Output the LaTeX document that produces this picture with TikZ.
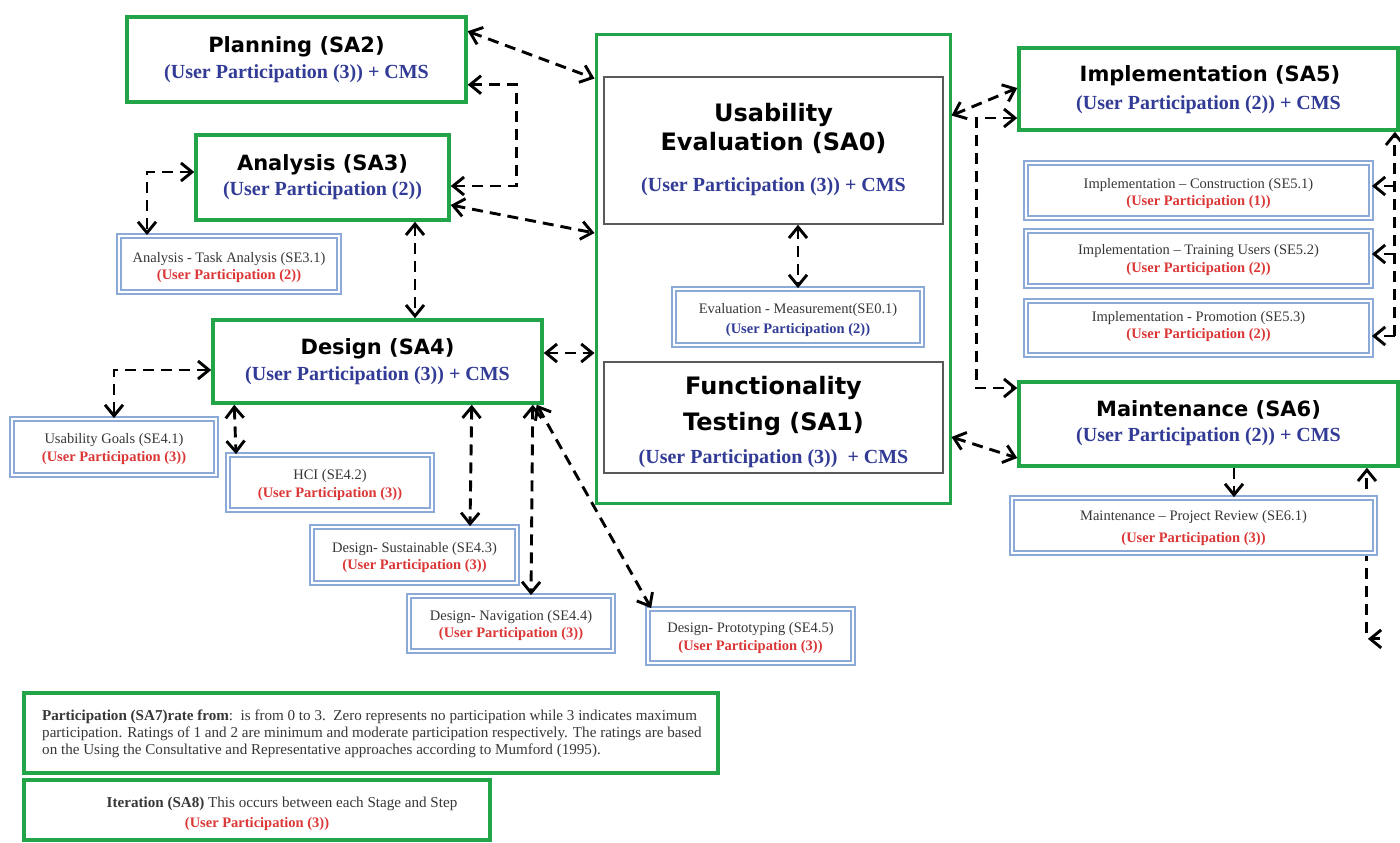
\documentclass[tikz,border=0pt]{standalone}
\usepackage{fontspec}
\setmainfont{Liberation Serif}
\newfontfamily\headfont{DejaVu Sans}
\usetikzlibrary{arrows.meta,backgrounds}

\definecolor{sagreen}{RGB}{34,165,72}
\definecolor{stepblue}{RGB}{140,170,215}
\definecolor{coregray}{RGB}{90,90,90}
\definecolor{upblue}{RGB}{50,60,150}
\definecolor{upred}{RGB}{220,55,55}
\definecolor{stepgray}{RGB}{55,55,55}

\tikzset{
  stage/.style={draw=sagreen, line width=3.5pt, fill=white, inner sep=0pt},
  frame/.style={draw=sagreen, line width=3pt, fill=white, inner sep=0pt},
  core/.style={draw=coregray, line width=1.5pt, fill=white, inner sep=0pt},
  substep/.style={draw=stepblue, line width=1.8pt, double=white, double distance=1.6pt, fill=white, inner sep=0pt},
  titletext/.style={font=\headfont\bfseries\fontsize{21}{25}\selectfont, anchor=base, inner sep=0pt},
  bigtitle/.style={font=\headfont\bfseries\fontsize{24}{28}\selectfont, anchor=base, inner sep=0pt},
  cms/.style={font=\bfseries\fontsize{20}{24}\selectfont, text=upblue, anchor=base, inner sep=0pt},
  stepname/.style={font=\fontsize{14.5}{17}\selectfont, text=stepgray, anchor=base, inner sep=0pt},
  steprate/.style={font=\bfseries\fontsize{14.5}{17}\selectfont, text=upred, anchor=base, inner sep=0pt},
  steprateblue/.style={steprate, text=upblue},
  notetext/.style={font=\fontsize{15.1}{17}\selectfont, text=stepgray, anchor=base west, inner sep=0pt},
  link/.style={draw=black, line width=2.9pt, dash pattern=on 11pt off 7pt,
    >={Straight Barb[length=11pt,width=18pt]}},
}

\begin{document}
\begin{tikzpicture}[x=1pt,y=-1pt]
\useasboundingbox (0,0) rectangle (1400,843);

% ---- central stage: usability evaluation and functionality testing
\node[frame, minimum width=354pt, minimum height=468pt] (cen) at (773,269) {};
\node[core, minimum width=339pt, minimum height=147pt] (sa0) at (773.5,150.5) {};
\node[substep, minimum width=248pt, minimum height=56pt] (se01) at (798,317) {};
\node[core, minimum width=339pt, minimum height=111pt] (sa1) at (773.5,417.5) {};

\node[bigtitle] (sa0a) at (773.5,121) {Usability};
\node[bigtitle] (sa0b) at (773.5,150) {Evaluation (SA0)};
\node[cms] (sa0c) at (773.5,191) {(User Participation (3)) + CMS};
\node[stepname] (se01a) at (798,313) {Evaluation - Measurement(SE0.1)};
\node[steprateblue] (se01b) at (798,333) {(User Participation (2))};
\node[bigtitle] (sa1a) at (773.5,394) {Functionality};
\node[bigtitle] (sa1b) at (773.5,430) {Testing (SA1)};
\node[cms] (sa1c) at (773.5,463) {(User Participation (3))\ \ + CMS};

% ---- planning and analysis
\node[stage, minimum width=339pt, minimum height=85pt] (sa2) at (296.5,59.5) {};
\node[titletext] (sa2a) at (296.5,52.5) {Planning (SA2)};
\node[cms] (sa2b) at (296.5,78.5) {(User Participation (3)) + CMS};

\node[stage, minimum width=253pt, minimum height=85pt] (sa3) at (322.5,177.5) {};
\node[titletext] (sa3a) at (322.5,170) {Analysis (SA3)};
\node[cms] (sa3b) at (322.5,195.5) {(User Participation (2))};

\node[substep, minimum width=220pt, minimum height=56pt] (se31) at (229,264) {};
\node[stepname] (se31a) at (229,262) {Analysis - Task Analysis (SE3.1)};
\node[steprate] (se31b) at (229,279) {(User Participation (2))};

% ---- design and its steps
\node[stage, minimum width=329pt, minimum height=83pt] (sa4) at (377.5,361.5) {};
\node[titletext] (sa4a) at (377.5,354.5) {Design (SA4)};
\node[cms] (sa4b) at (377.5,380) {(User Participation (3)) + CMS};

\node[substep, minimum width=204pt, minimum height=56pt] (se41) at (114,447) {};
\node[stepname] (se41a) at (114,443) {Usability Goals (SE4.1)};
\node[steprate] (se41b) at (114,461) {(User Participation (3))};

\node[substep, minimum width=204pt, minimum height=55pt] (se42) at (330,482.5) {};
\node[stepname] (se42a) at (330,479) {HCI (SE4.2)};
\node[steprate] (se42b) at (330,497) {(User Participation (3))};

\node[substep, minimum width=205pt, minimum height=56pt] (se43) at (414.5,555) {};
\node[stepname] (se43a) at (414.5,552) {Design- Sustainable (SE4.3)};
\node[steprate] (se43b) at (414.5,569) {(User Participation (3))};

\node[substep, minimum width=204pt, minimum height=55pt] (se44) at (511,623.5) {};
\node[stepname] (se44a) at (511,620) {Design- Navigation (SE4.4)};
\node[steprate] (se44b) at (511,637) {(User Participation (3))};

\node[substep, minimum width=205pt, minimum height=54pt] (se45) at (750.5,636) {};
\node[stepname] (se45a) at (750.5,632) {Design- Prototyping (SE4.5)};
\node[steprate] (se45b) at (750.5,650) {(User Participation (3))};

% ---- implementation and its steps
\node[stage, minimum width=379pt, minimum height=82pt] (sa5) at (1208.5,89) {};
\node[titletext] (sa5a) at (1210,81.5) {Implementation (SA5)};
\node[cms] (sa5b) at (1208.5,110) {(User Participation (2)) + CMS};

\node[substep, minimum width=345pt, minimum height=55pt] (se51) at (1198.5,190.5) {};
\node[stepname] (se51a) at (1198.5,188) {Implementation -- Construction (SE5.1)};
\node[steprate] (se51b) at (1198.5,205) {(User Participation (1))};

\node[substep, minimum width=345pt, minimum height=55pt] (se52) at (1198.5,258.5) {};
\node[stepname] (se52a) at (1198.5,254) {Implementation -- Training Users (SE5.2)};
\node[steprate] (se52b) at (1198.5,272) {(User Participation (2))};

\node[substep, minimum width=345pt, minimum height=54pt] (se53) at (1198.5,328) {};
\node[stepname] (se53a) at (1198.5,321) {Implementation - Promotion (SE5.3)};
\node[steprate] (se53b) at (1198.5,338) {(User Participation (2))};

% ---- maintenance
\node[stage, minimum width=379pt, minimum height=84pt] (sa6) at (1208.5,424) {};
\node[titletext] (sa6a) at (1208.5,416) {Maintenance (SA6)};
\node[cms] (sa6b) at (1208.5,441) {(User Participation (2)) + CMS};

\node[substep, minimum width=363pt, minimum height=55pt] (se61) at (1193.5,525.5) {};
\node[stepname] (se61a) at (1193.5,520) {Maintenance -- Project Review (SE6.1)};
\node[steprate] (se61b) at (1193.5,542) {(User Participation (3))};

% ---- notes on participation and iteration
\node[stage, minimum width=694pt, minimum height=80pt] (sa7) at (371,733) {};
\node[notetext] (sa7a) at (42,720) {\textbf{Participation (SA7)rate from}:\ \ is from 0 to 3.\ \ Zero represents no participation while 3 indicates maximum};
\node[notetext] (sa7b) at (42,737) {participation. Ratings of 1 and 2 are minimum and moderate participation respectively. The ratings are based};
\node[notetext] (sa7c) at (42,754) {on the Using the Consultative and Representative approaches according to Mumford (1995).};

\node[stage, minimum width=466pt, minimum height=60pt] (sa8) at (257,810) {};
\node[notetext, anchor=base] (sa8a) at (282,807) {\textbf{Iteration (SA8)} This occurs between each Stage and Step};
\node[steprate] (sa8b) at (257,827) {(User Participation (3))};

% ---- connectors
\draw[link,<->] ([yshift=-16pt]sa2.north east) -- ([yshift=-45pt]cen.north west);
\draw[link,<->] ([yshift=19pt]sa2.south east) -- ++(49,0) |- ([yshift=-8.5pt]sa3.east);
\draw[link,<->] ([yshift=-27.5pt]sa3.east) -- ([yshift=36pt]cen.west);
\draw[link,<->] ([xshift=92.5pt]sa3.south) -- ([xshift=37.5pt]sa4.north);
\draw[link,<->] ([yshift=5.5pt]sa3.west) -| ([xshift=-82pt]se31.north);

\draw[link,<->] ([yshift=8.5pt]sa4.east) -- ([yshift=-84pt]cen.west);
\draw[link,<->] ([yshift=-8.5pt]sa4.west) -| (se41.north);
\draw[link,<->] ([xshift=23pt]sa4.south west) -- ([xshift=-94pt]se42.north);
\draw[link,<->] ([xshift=-72pt]sa4.south east) -- ([xshift=55.5pt]se43.north);
\draw[link,<->] ([xshift=-11pt]sa4.south east) -- ([xshift=20pt]se44.north);
\draw[link,<->] ([xshift=-7pt]sa4.south east) -- ([xshift=4pt]se45.north west);

\draw[link,<->] ([xshift=24.5pt]sa0.south) -- (se01.north);

\draw[link,<->] ([yshift=-82pt]cen.north east) -- ([yshift=1pt]sa5.west);
\draw[link,<->] ([yshift=-29pt]sa5.west) -- ++(-41,0) |- ([yshift=36pt]sa6.west);
\draw[link,<->] ([yshift=-168pt]cen.east) -- ([yshift=-34pt]sa6.west);
\draw[link,->] ([xshift=25.5pt]sa6.south) -- ([xshift=40.5pt]se61.north);

\coordinate (spine) at ([xshift=23pt,yshift=-8pt]se53.east);
\draw[link,->] (spine) -- (spine |- sa5.south);
\draw[link,->] (spine) -- ([yshift=-8pt]se53.east);
\draw[link,->] ([xshift=23pt,yshift=4.5pt]se52.east) -- ([yshift=4.5pt]se52.east);
\draw[link,->] ([xshift=23pt,yshift=4.5pt]se51.east) -- ([yshift=4.5pt]se51.east);

% the return line runs behind the project review box
\coordinate (loopend) at ([xshift=-9pt,yshift=-79pt]se61.south east);
\begin{pgfonlayer}{background}
\fill[white] (0,0) rectangle (1400,843);
\draw[link,->] (loopend) -- (loopend |- sa6.south);
\end{pgfonlayer}
\draw[link,<-] ([xshift=1pt,yshift=-6pt]loopend) -- ++(12,0);
\end{tikzpicture}
\end{document}
